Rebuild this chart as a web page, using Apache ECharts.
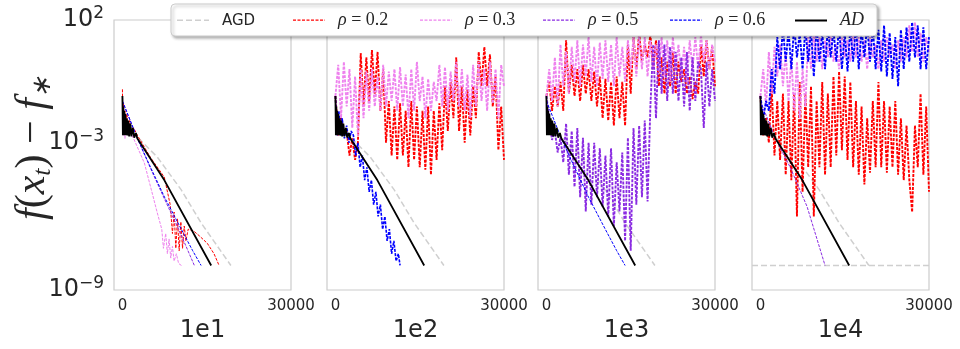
<!DOCTYPE html>
<html>
<head>
<meta charset="utf-8">
<script src="https://cdn.jsdelivr.net/npm/echarts@6/dist/echarts.min.js"></script>
<style>
  html, body { margin: 0; padding: 0; background: #fff; }
  #chart { width: 960px; height: 349px; }
</style>
</head>
<body>
<div id="chart"></div>
<script>
// panel titles (step sizes) and x tick labels
const panelTitles = ["1e1", "1e2", "1e3", "1e4"];
const xTicks = [0, 30000];
const yTickExps = [2, -3, -9];

// x positions shared by the noisy runs (every 500 iterations)
const stepX = Array.from({ length: 61 }, (_, i) => i * 500);

// AD and AGD are the same in every panel
const adX = [0, 80, 160, 240, 320, 420, 520, 640, 760, 900, 1050, 1200, 1400, 1600, 1850, 2100, 2400, 2660, 7450, 15800];
const adY = [8e-2, 2e-3, 3e-2, 2e-3, 2e-2, 2e-3, 1.5e-2, 2e-3, 1e-2, 2e-3, 8e-3, 1.8e-3, 6e-3, 1.8e-3, 4e-3, 1.6e-3, 2.5e-3, 1.5e-3, 3e-5, 1e-8];
const agdX = [0, 150, 300, 500, 700, 1000, 1400, 2000, 2660, 6200, 10470, 14000, 19300];
const agdY = [8e-2, 3e-3, 2e-2, 3e-3, 1e-2, 3e-3, 6e-3, 2.5e-3, 1.7e-3, 2.6e-4, 1.2e-5, 5.4e-7, 1e-8];
// AGD floor line drawn across the 1e4 panel
const agdFloorX = [-1500, 30000];
const agdFloorY = [1e-8, 1e-8];

// panel 1e1
const p1r02X = [0, 100, 200, 300, 450, 600, 800, 1000, 1300, 1600, 2000, 2660, 5000, 7450, 8500, 8900, 9200, 9500, 9800, 10100, 10400, 10700, 11000, 11300, 11700, 12700, 13700, 15100, 16300, 17200];
const p1r02Y = [1.5e-1, 3e-3, 4e-2, 3e-3, 2e-2, 3e-3, 1.5e-2, 3e-3, 8e-3, 2.5e-3, 4e-3, 2e-3, 2.5e-4, 4e-5, 3e-6, 2e-7, 1.5e-6, 5e-8, 8e-7, 4e-8, 6e-7, 5e-8, 4e-7, 1e-7, 3e-7, 2.5e-7, 1.6e-7, 8e-8, 3e-8, 1e-8];
const p1r03X = [0, 150, 300, 450, 600, 900, 1300, 2100, 3900, 5150, 6200, 7000, 7300, 7700, 8000, 8300, 8600, 8900, 9200, 9600, 10000, 10500];
const p1r03Y = [4e-2, 2e-3, 1.5e-2, 1.5e-3, 8e-3, 2e-3, 3e-3, 1.3e-3, 1.5e-4, 1.2e-5, 1.4e-6, 3e-7, 5e-8, 2e-7, 3e-8, 1.2e-7, 2e-8, 6e-8, 1.5e-8, 3e-8, 1.2e-8, 1e-8];
const p1r05X = [0, 2660, 5000, 7500, 10000, 12800];
const p1r05Y = [5e-2, 1.5e-3, 9e-5, 5e-6, 3e-7, 1e-8];
// blue run that converges (panels 1e1 and 1e3)
const blueX = [0, 2660, 5000, 7500, 10470, 12500, 14000];
const blueY = [5e-2, 1.5e-3, 1e-4, 6e-6, 3e-7, 4e-8, 1e-8];

// panel 1e2
const p2r02 = [8e-2, 2e-3, 1e-2, 2e-3, 3e-3, 3e-4, 1.5e-3, 2e-4, 1e-3, 4.5, 3e-2, 3, 5e-2, 6, 1e-1, 5, 2e-2, 1, 1e-3, 5e-2, 3e-4, 3e-2, 2e-4, 4e-2, 3e-4, 2e-2, 1e-4, 5e-2, 2e-4, 3e-2, 1e-4, 2e-2, 8e-5, 3e-2, 5e-5, 2e-2, 2e-4, 4e-2, 5e-4, 2e-1, 3e-3, 3e-1, 1e-2, 3, 3e-3, 2e-1, 1e-3, 1.5e-1, 2e-3, 2e-1, 1e-2, 5, 2e-1, 8, 2e-1, 4, 3e-2, 5e-1, 5e-4, 3e-2, 2e-4];
const p2r03 = [8e-2, 1.5, 1e-2, 2, 3e-2, 1, 4e-3, 5e-1, 2e-3, 1, 1e-2, 8e-1, 2e-2, 1, 3e-2, 5e-1, 2e-2, 1.5, 3e-2, 8e-1, 5e-2, 1, 2e-2, 1.2, 3e-2, 6e-1, 1e-2, 1, 2e-2, 2, 5e-2, 5e-1, 1e-2, 4e-1, 2e-2, 3e-1, 5e-2, 1.5, 3e-2, 1.2, 2e-2, 8e-1, 5e-2, 2, 3e-2, 1, 2e-2, 6e-1, 1e-2, 1.5, 3e-2, 2, 5e-2, 1, 2e-2, 2, 4e-2, 1, 1e-2, 1.5, 2e-1];
const p2r06X = [0, 300, 600, 900, 1200, 1600, 2000, 2400, 2800, 3200, 3600, 4000, 4400, 4800, 5200, 5600, 6000, 6400, 6800, 7200, 7600, 8000, 8400, 8800, 9200, 9600, 10000, 10400, 10800, 11200, 11500];
const p2r06Y = [8e-2, 2e-3, 2e-2, 2e-3, 1e-2, 1.5e-3, 5e-3, 1e-3, 3e-3, 2e-3, 3e-4, 1e-3, 1e-4, 3e-4, 3e-5, 1e-4, 1e-5, 3e-5, 3e-6, 1e-5, 1e-6, 3e-6, 3e-7, 1e-6, 1e-7, 3e-7, 3e-8, 1e-7, 1.5e-8, 3e-8, 1e-8];

// panel 1e3
const p3r02 = [8e-2, 3e-1, 2e-2, 2e-1, 3e-2, 3e-1, 2e-2, 15, 1e-1, 1.5, 8e-2, 1, 5e-2, 1.5, 1e-1, 1, 5e-2, 8e-1, 3e-2, 5e-1, 1e-2, 4e-1, 8e-3, 3e-1, 5e-3, 5e-1, 1e-2, 3e-1, 5e-3, 10, 1e-1, 20, 1, 30, 2, 10, 3, 25, 1, 15, 2e-1, 3, 1e-1, 2, 2e-1, 5, 1e-1, 2, 3e-1, 1, 1e-1, 5e-1, 6e-2, 3e-1, 1e-1, 10, 5e-1, 15, 1, 8, 2e-1];
const p3r03 = [8e-2, 1, 5e-2, 3, 3e-2, 10, 2e-1, 5, 1e-1, 8, 3e-1, 15, 2e-1, 10, 5e-1, 20, 3e-1, 8, 2e-1, 12, 4e-1, 15, 3e-1, 10, 2e-1, 20, 5e-1, 8, 3e-1, 15, 1, 20, 5e-1, 25, 1, 20, 5e-1, 15, 1, 10, 8e-1, 20, 5e-1, 15, 3e-1, 20, 1, 10, 5e-1, 8, 3e-1, 15, 1, 20, 1, 25, 2, 15, 1, 10, 2];
const p3r05 = [8e-2, 1e-2, 1.3e-3, 3e-3, 4e-4, 1.6e-3, 1.6e-4, 6e-3, 5e-5, 3e-3, 1.6e-5, 4e-3, 6e-6, 1.6e-3, 1.6e-6, 1e-3, 3e-6, 1e-3, 6e-6, 6e-4, 2.5e-6, 3e-4, 1e-6, 6e-4, 4e-7, 1.6e-4, 1.6e-6, 4e-4, 1e-7, 1.6e-3, 4e-8, 4e-3, 3e-6, 5e-3, 6e-6, 8e-3, 4e-6, 3e-2, 10, 1e-2, 15, 1e-1, 10, 5e-2, 8, 1e-1, 5, 5e-2, 3, 3e-2, 5, 2e-2, 3, 5e-2, 2, 1, 4e-3, 2, 3e-2, 1, 5e-2];

// panel 1e4
const p4r02 = [8e-2, 2e-3, 1e-2, 1e-3, 2e-1, 3e-4, 5e-2, 2e-4, 1e-1, 5e-5, 5e-2, 3e-5, 1e-1, 1e-6, 3e-1, 1e-5, 1e-1, 1e-4, 2e-1, 1e-6, 5e-2, 1e-4, 3e-1, 5e-5, 1e-1, 1e-4, 5e-1, 3e-4, 8e-1, 5e-4, 5e-1, 2e-4, 3e-1, 1e-4, 5e-2, 5e-5, 3e-2, 2e-5, 1e-2, 6e-5, 5e-2, 1e-4, 3e-1, 1e-4, 5e-2, 6e-5, 3e-2, 1e-4, 5e-2, 5e-5, 1e-2, 3e-5, 5e-3, 3e-5, 1.5e-6, 5e-3, 1e-4, 1e-1, 5e-5, 3e-2, 1e-5];
const p4r03 = [8e-2, 1, 3e-2, 5, 1e-1, 8, 5e-1, 10, 2e-1, 5, 5e-2, 3, 2e-2, 2, 1e-2, 1, 3e-2, 20, 1, 30, 2, 20, 1, 15, 3, 25, 2, 10, 1, 20, 3, 15, 2, 40, 3, 20, 2, 15, 1, 20, 3, 10, 1, 15, 2, 20, 3, 10, 1, 15, 2, 20, 3, 60, 5, 80, 3, 30, 2, 20, 5];
const p4r05X = [0, 2660, 5300, 8300, 11500];
const p4r05Y = [5e-2, 1.5e-3, 1e-4, 2.5e-6, 1e-8];
const p4r06 = [8e-2, 1e-2, 5e-2, 2e-2, 1, 1e-1, 20, 1, 50, 2, 40, 1, 60, 3, 30, 1, 50, 2, 40, 5e-1, 60, 2, 30, 1, 50, 3, 40, 2, 60, 1, 30, 8e-1, 50, 2, 60, 1, 40, 3, 70, 2, 50, 1, 40, 8e-1, 60, 5e-1, 30, 4e-1, 20, 2e-1, 40, 1, 50, 2, 80, 3, 60, 1, 50, 1, 20];

const names = ["AGD", "ρ=0.2", "ρ=0.3", "ρ=0.5", "ρ=0.6", "AD"];
const styles = {
  "AGD":   { color: "#cfcfcf", width: 1.5, type: [6, 3] },
  "ρ=0.2": { color: "#ff0000", width: 1, type: [3, 1.3] },
  "ρ=0.3": { color: "#ee82ee", width: 1, type: [3, 1.3] },
  "ρ=0.5": { color: "#8a2be2", width: 1, type: [3, 1.3] },
  "ρ=0.6": { color: "#0000ff", width: 1, type: [3, 1.3] },
  "AD":    { color: "#000000", width: 1.8, type: "solid" },
};
// legend icons: dash patterns as paths; the two bare moveTo's pad the box to 20 units tall
const pad = "M0,-9.5M0,10.5";
const dashIcon = "path://" + pad + "M0,0h3v1.2h-3zM4.5,0h3v1.2h-3zM9,0h3v1.2h-3zM13.5,0h3v1.2h-3zM18,0h3v1.2h-3zM22.5,0h3v1.2h-3zM27,0h3v1.2h-3zM31.5,0h0.5v1.2h-0.5z";
const longDashIcon = "path://" + pad + "M0,0h6v1.5h-6zM9,0h6v1.5h-6zM18,0h6v1.5h-6zM27,0h5v1.5h-5z";
const solidIcon = "path://" + pad + "M0,0h32v2h-32z";
const legendLefts = [177, 293, 420, 543, 670, 795];

const zip = (xs, ys) => xs.map((x, i) => [x, ys[i]]);

function line(name, g, data, width) {
  const s = styles[name];
  return {
    name: name,
    type: "line",
    xAxisIndex: g,
    yAxisIndex: g,
    data: data,
    symbol: "none",
    silent: true,
    itemStyle: { color: s.color },
    lineStyle: { color: s.color, width: width || s.width, type: s.type },
  };
}

// which run goes in which panel, in draw order; noisy runs get more weight
const W = 1.9;
const panels = [
  { "AGD": [zip(agdX, agdY)], "ρ=0.2": [zip(p1r02X, p1r02Y)], "ρ=0.3": [zip(p1r03X, p1r03Y)],
    "ρ=0.5": [zip(p1r05X, p1r05Y)], "ρ=0.6": [zip(blueX, blueY)], "AD": [zip(adX, adY)] },
  { "AGD": [zip(agdX, agdY)], "ρ=0.2": [zip(stepX, p2r02), W], "ρ=0.3": [zip(stepX, p2r03), W],
    "ρ=0.5": [[]], "ρ=0.6": [zip(p2r06X, p2r06Y), 1.6], "AD": [zip(adX, adY)] },
  { "AGD": [zip(agdX, agdY)], "ρ=0.2": [zip(stepX, p3r02), W], "ρ=0.3": [zip(stepX, p3r03), W],
    "ρ=0.5": [zip(stepX, p3r05), W], "ρ=0.6": [zip(blueX, blueY)], "AD": [zip(adX, adY)] },
  { "AGD": [zip(agdX, agdY)], "ρ=0.2": [zip(stepX, p4r02), W], "ρ=0.3": [zip(stepX, p4r03), W],
    "ρ=0.5": [zip(p4r05X, p4r05Y)], "ρ=0.6": [zip(stepX, p4r06), W], "AD": [zip(adX, adY)] },
];

const gridLefts = [114, 327, 538, 752];
const grids = [], xAxes = [], yAxes = [], series = [];

panels.forEach((p, g) => {
  grids.push({
    left: gridLefts[g], top: 20, width: 177, height: 270,
    show: true, borderColor: "#cccccc", borderWidth: 1.2, backgroundColor: "#fff",
  });
  xAxes.push({
    gridIndex: g, type: "value", min: -1500, max: 30000, interval: 1500,
    axisLine: { show: false }, axisTick: { show: false }, splitLine: { show: false },
    axisLabel: {
      color: "#262626", fontSize: 15, fontFamily: "DejaVu Sans", margin: 9,
      showMaxLabel: true, showMinLabel: true,
      formatter: (v) => (xTicks.includes(v) ? String(v) : ""),
    },
    name: panelTitles[g], nameLocation: "middle", nameGap: 24,
    nameTextStyle: { color: "#262626", fontSize: 24, fontFamily: "DejaVu Sans" },
  });
  yAxes.push({
    gridIndex: g, type: "log", logBase: 10, min: 1e-9, max: 1e2, interval: 1,
    axisLine: { show: false }, axisTick: { show: false }, splitLine: { show: false },
    axisLabel: {
      show: g === 0, margin: 10,
      formatter: (v) => {
        const e = Math.round(Math.log10(v));
        if (!yTickExps.includes(e)) return "";
        return "{b|10}{e|" + String(e).replace("-", "−") + "}";
      },
      rich: {
        b: { fontSize: 24, color: "#262626", fontFamily: "DejaVu Sans", lineHeight: 30 },
        e: { fontSize: 17, color: "#262626", fontFamily: "DejaVu Sans", verticalAlign: "top", lineHeight: 30 },
      },
    },
  });
  names.forEach((n) => {
    series.push(line(n, g, p[n][0], p[n][1]));
    if (g === 3 && n === "AGD") series.push(line(n, g, zip(agdFloorX, agdFloorY)));
  });
});

// one legend per entry so each sits where the reference has it
const legendRich = {
  s: { fontFamily: "DejaVu Sans", fontSize: 15, color: "#262626", lineHeight: 20, padding: [3, 0, 0, 0] },
  m: { fontFamily: "Liberation Serif", fontStyle: "italic", fontSize: 18, color: "#262626", lineHeight: 20 },
  n: { fontFamily: "Liberation Serif", fontSize: 18, color: "#262626", lineHeight: 20 },
};
const legends = names.map((n, i) => ({
  data: [{ name: n, icon: n === "AGD" ? longDashIcon : (n === "AD" ? solidIcon : dashIcon) }],
  left: legendLefts[i], top: 10, z: 12, padding: 0,
  itemWidth: 32, itemHeight: 20,
  formatter: (name) => {
    if (name === "AGD") return "{s|AGD}";
    if (name === "AD") return "{m|AD}";
    return "{m|ρ}{n| = " + name.split("=")[1] + "}";
  },
  textStyle: { padding: [0, 0, 0, 8], rich: legendRich },
}));

const chart = echarts.init(document.getElementById("chart"), null, { renderer: "canvas" });
chart.setOption({
  animation: false,
  backgroundColor: "#fff",
  grid: grids,
  xAxis: xAxes,
  yAxis: yAxes,
  series: series,
  legend: legends,
  graphic: [
    {
      type: "rect", z: 11, silent: true,
      shape: { x: 171, y: 4, width: 706, height: 32, r: 4 },
      style: {
        fill: "#fff", stroke: "#cccccc", lineWidth: 1,
        shadowColor: "rgba(0,0,0,0.3)", shadowBlur: 3, shadowOffsetX: 2, shadowOffsetY: 2,
      },
    },
    {
      type: "text",
      x: 33, y: 148, rotation: Math.PI / 2,
      style: {
        text: "{i|f}{n|(}{i|x}{s|t}{n|) − }{i|f}{s|∗}",
        align: "center", verticalAlign: "middle",
        rich: {
          i: { fontFamily: "Liberation Serif", fontStyle: "italic", fontSize: 42, fill: "#262626", lineHeight: 46 },
          n: { fontFamily: "Liberation Serif", fontSize: 42, fill: "#262626", lineHeight: 46 },
          s: { fontFamily: "Liberation Serif", fontStyle: "italic", fontSize: 26, fill: "#262626", lineHeight: 46, verticalAlign: "bottom" },
        },
      },
    },
  ],
});
</script>
</body>
</html>
